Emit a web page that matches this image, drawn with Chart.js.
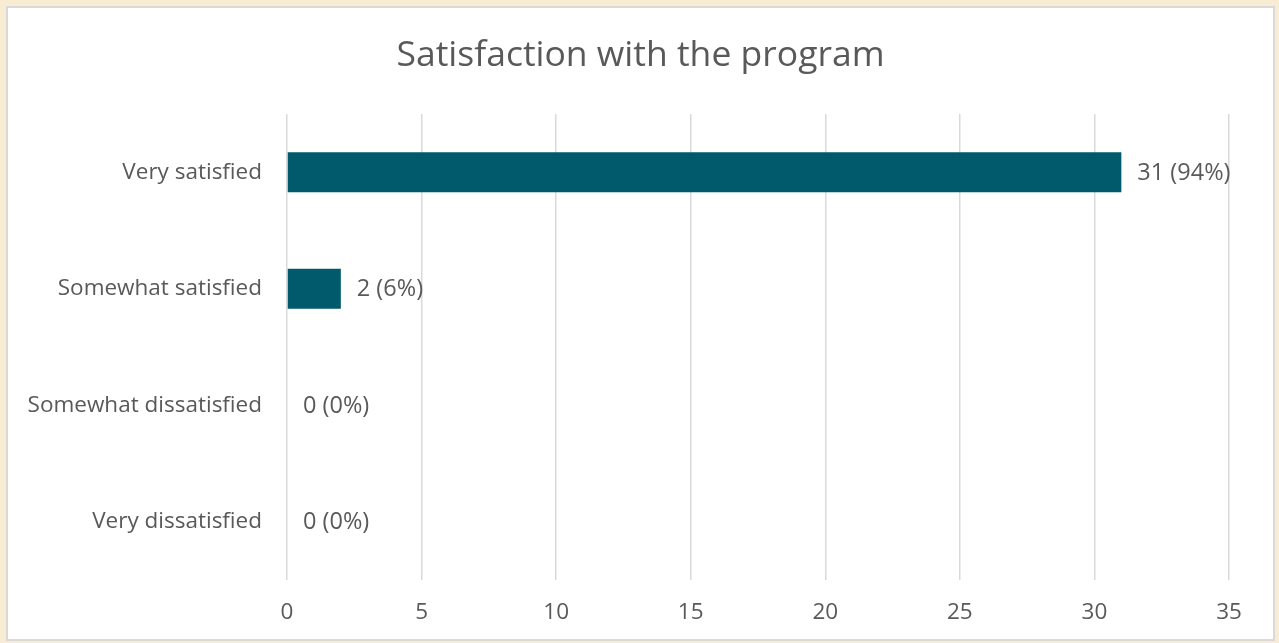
<!DOCTYPE html>
<html>
<head>
<meta charset="utf-8">
<script src="https://cdn.jsdelivr.net/npm/chart.js@4/dist/chart.umd.min.js"></script>
<style>
  html, body { margin: 0; padding: 0; background: #f8ecd3; }
  #frame {
    position: absolute; left: 6px; top: 6px;
    width: 1265px; height: 631px;
    background: #fff; border: 2px solid #d9d9d9;
  }
  #chart { display: block; }
</style>
</head>
<body>
<div id="frame"><canvas id="chart" width="1265" height="631"></canvas></div>
<script>
var categories = ["Very satisfied", "Somewhat satisfied", "Somewhat dissatisfied", "Very dissatisfied"];
var counts = [31, 2, 0, 0];
var percents = [94, 6, 0, 0];
var xTicks = [0, 5, 10, 15, 20, 25, 30, 35];
var chartTitle = "Satisfaction with the program";

var FONT = "'Open Sans', 'Noto Sans', sans-serif";
var TEXT = "#595959";

// title centred on the whole canvas + "n (p%)" right of each bar
var extras = {
    id: 'extras',
    afterDraw: function(chart) {
        var ctx = chart.ctx;
        var meta = chart.getDatasetMeta(0);
        ctx.save();
        ctx.fillStyle = TEXT;
        ctx.textBaseline = 'middle';
        ctx.textAlign = 'center';
        ctx.font = "35.5px " + FONT;
        ctx.fillText(chartTitle, chart.width / 2, 48);
        ctx.textAlign = 'left';
        ctx.font = "23.5px " + FONT;
        meta.data.forEach(function(bar, i) {
            var txt = counts[i] + ' (' + percents[i] + '%)';
            ctx.fillText(txt, bar.x + 16, bar.y + 1);
        });
        ctx.restore();
    }
};

new Chart(document.getElementById("chart"), {
    type: 'bar',
    data: {
        labels: categories,
        datasets: [{
            data: counts,
            backgroundColor: "#005a6b",
            barPercentage: 0.69,
            categoryPercentage: 0.5
        }]
    },
    options: {
        indexAxis: 'y',
        responsive: false,
        animation: false,
        layout: { padding: { top: 106, left: 0, right: 44, bottom: 0 } },
        plugins: {
            legend: { display: false },
            tooltip: { enabled: false },
            title: { display: false }
        },
        scales: {
            x: {
                min: 0,
                max: 35,
                afterBuildTicks: function(scale) {
                    scale.ticks = xTicks.map(function(v) { return { value: v }; });
                },
                afterFit: function(scale) { scale.height = 59; },
                grid: { color: "#d9d9d9", lineWidth: 1.5, drawTicks: false },
                border: { display: false },
                ticks: { color: TEXT, padding: 19, font: { family: FONT, size: 22.5 } }
            },
            y: {
                afterFit: function(scale) { scale.width = 279; },
                grid: { display: false },
                border: { display: false },
                ticks: { color: TEXT, padding: 17, font: { family: FONT, size: 22.5 } }
            }
        }
    },
    plugins: [extras]
});
</script>
</body>
</html>
